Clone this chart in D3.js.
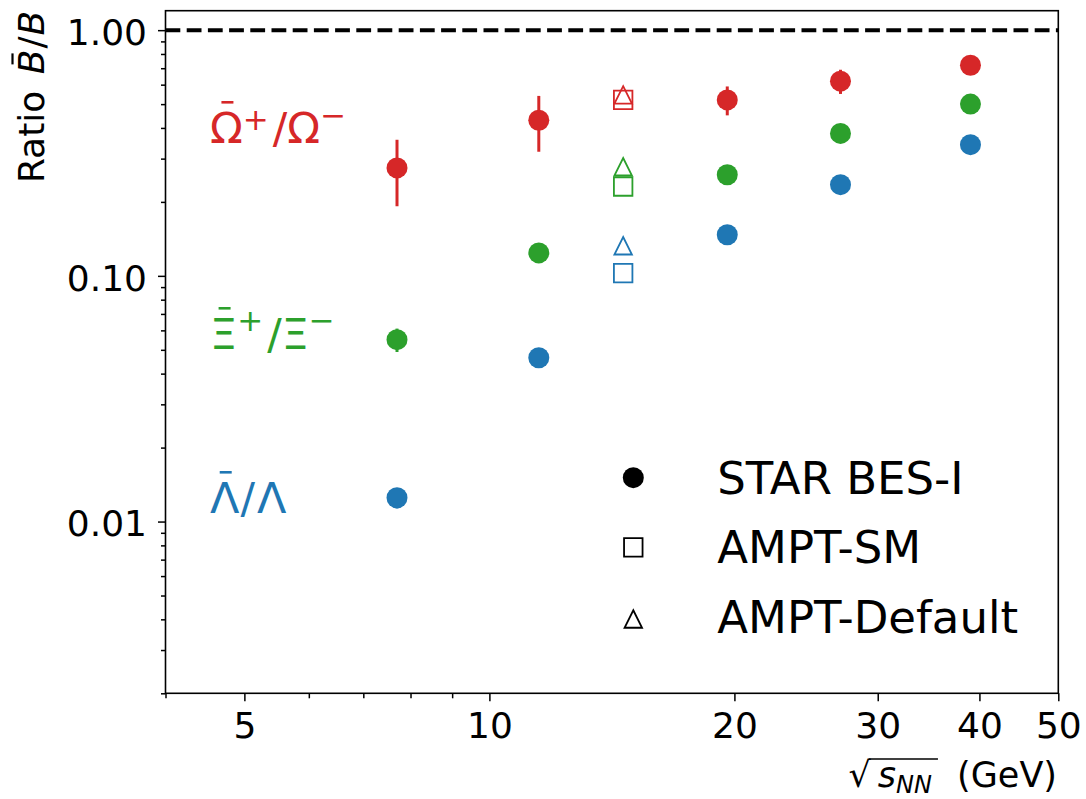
<!DOCTYPE html>
<html>
<head>
<meta charset="utf-8">
<script src="https://cdn.jsdelivr.net/npm/d3@7"></script>
<style>
  body { margin: 0; background: #fff; }
  text { font-family: "DejaVu Sans", sans-serif; }
</style>
</head>
<body>
<svg id="chart" width="1086" height="799"></svg>
<script>
// ---- data: antibaryon/baryon ratios vs collision energy ----
const energies = [7.7, 11.5, 19.6, 27, 39];

const omegaRatio  = [0.275, 0.43, 0.52, 0.62, 0.72];
const omegaErr    = [0.083, 0.11, 0.07, 0.07, 0.0];
const xiRatio     = [0.055, 0.124, 0.258, 0.38, 0.50];
const xiErr       = [0.006, 0.0, 0.0, 0.0, 0.0];
const lambdaRatio = [0.0125, 0.0464, 0.147, 0.235, 0.342];
const lambdaErr   = [0.0012, 0.0, 0.0, 0.0, 0.0];

// AMPT model points (omega, xi, lambda) at one energy
const amptEnergy  = 14.6;
const amptSM      = [0.52, 0.231, 0.1026];
const amptDefault = [0.545, 0.278, 0.1326];

const xTickValues = [5, 10, 20, 30, 40, 50];
const xMinorTicks = [4, 6, 7, 8, 9];
const yTickValues = [0.01, 0.1, 1];
const yTickLabels = ["0.01", "0.10", "1.00"];
const legendLabels = ["STAR BES-I", "AMPT-SM", "AMPT-Default"];

const colors = { omega: "#d62728", xi: "#2ca02c", lambda: "#1f77b4" };

// ---- frame ----
const L = 165.5, R = 1058.3, T = 10.7, B = 693.3;
const svg = d3.select("#chart");

const x = d3.scaleLog().domain([4, 50]).range([L, R]);
const y = d3.scaleLog().domain([0.002, 1.2]).range([B, T]);

const yMinor = [];
[0.001, 0.01, 0.1].forEach(d => {
  for (let k = 2; k <= 9; k++) {
    const v = +(k * d).toPrecision(3);
    if (v >= 0.002 && v <= 1.2) yMinor.push(v);
  }
});

// axes
const xAxis = svg.append("g").attr("transform", `translate(0,${B})`)
  .call(d3.axisBottom(x).tickValues(xTickValues).tickFormat(d3.format("d"))
        .tickSize(8).tickPadding(12));
const xAxisMinor = svg.append("g").attr("transform", `translate(0,${B})`)
  .call(d3.axisBottom(x).tickValues(xMinorTicks).tickFormat("").tickSize(5));
const yAxis = svg.append("g").attr("transform", `translate(${L},0)`)
  .call(d3.axisLeft(y).tickValues(yTickValues)
        .tickFormat((d, i) => yTickLabels[i]).tickSize(7.5).tickPadding(11));
const yAxisMinor = svg.append("g").attr("transform", `translate(${L},0)`)
  .call(d3.axisLeft(y).tickValues(yMinor).tickFormat("").tickSize(4.5));

[xAxis, xAxisMinor, yAxis, yAxisMinor].forEach(g => {
  g.select(".domain").remove();
  g.selectAll(".tick line").attr("stroke", "#000").attr("stroke-width", 1.5);
  g.selectAll(".tick text").attr("fill", "#000").attr("font-size", 36)
    .attr("font-family", "DejaVu Sans");
});
yAxis.selectAll(".tick text").attr("dy", "0.4em");
xAxis.selectAll(".tick text").attr("dy", "0.69em");

// reference line at ratio = 1
svg.append("line")
  .attr("x1", L).attr("x2", R).attr("y1", y(1)).attr("y2", y(1))
  .attr("stroke", "#000").attr("stroke-width", 4)
  .attr("stroke-dasharray", "14.8,6.4");

// ---- STAR data with error bars ----
const series = [
  { key: "omega",  vals: omegaRatio,  errs: omegaErr },
  { key: "xi",     vals: xiRatio,     errs: xiErr },
  { key: "lambda", vals: lambdaRatio, errs: lambdaErr }
];
const dataLayer = svg.append("g");
series.forEach(s => {
  const pts = energies.map((e, i) => ({ e, v: s.vals[i], err: s.errs[i] }));
  dataLayer.append("g").selectAll("line").data(pts.filter(p => p.err > 0)).join("line")
    .attr("x1", p => x(p.e)).attr("x2", p => x(p.e))
    .attr("y1", p => y(p.v - p.err)).attr("y2", p => y(p.v + p.err))
    .attr("stroke", colors[s.key]).attr("stroke-width", 3);
  dataLayer.append("g").selectAll("circle").data(pts).join("circle")
    .attr("cx", p => x(p.e)).attr("cy", p => y(p.v)).attr("r", 10.5)
    .attr("fill", colors[s.key]);
});

// ---- AMPT open markers ----
const sq = 18.5, tri = 17.5;
const squarePath = `M${-sq/2},${-sq/2}h${sq}v${sq}h${-sq}Z`;
const trianglePath = `M0,${-tri/2}L${tri/2},${tri/2}L${-tri/2},${tri/2}Z`;
const keys = ["omega", "xi", "lambda"];
const amptLayer = svg.append("g");
keys.forEach((k, i) => {
  amptLayer.append("path").attr("d", squarePath)
    .attr("transform", `translate(${x(amptEnergy)},${y(amptSM[i])})`)
    .attr("fill", "none").attr("stroke", colors[k]).attr("stroke-width", 1.8);
  amptLayer.append("path").attr("d", trianglePath)
    .attr("transform", `translate(${x(amptEnergy)},${y(amptDefault[i])})`)
    .attr("fill", "none").attr("stroke", colors[k]).attr("stroke-width", 1.8);
});

// ---- species labels ----
function speciesLabel(base, sup1, sup2, color, baseline, sup1Shift, sup2Shift) {
  const t = svg.append("text").attr("x", 210).attr("y", baseline)
    .attr("font-size", 43).attr("fill", color);
  t.append("tspan").text(base);
  if (sup1) t.append("tspan").attr("font-size", 31).attr("dy", -sup1Shift).text(sup1);
  t.append("tspan").attr("dy", sup1 ? sup1Shift : 0).attr("dx", sup1 ? 4 : 1).text("/");
  t.append("tspan").attr("dx", sup1 ? 0 : 2).text(base);
  if (sup2) t.append("tspan").attr("font-size", 31).attr("dy", -sup2Shift).text(sup2);
  // accent bar over the first symbol
  const ext = t.node().getExtentOfChar(0);
  const cx = ext.x + ext.width / 2 + 1;
  svg.append("line").attr("x1", cx - 6).attr("x2", cx + 6)
    .attr("y1", baseline - 41).attr("y2", baseline - 41)
    .attr("stroke", color).attr("stroke-width", 2.6);
}
speciesLabel("\u03A9", "+", "\u2212", colors.omega, 143.3, 13.5, 17);
speciesLabel("\u039E", "+", "\u2212", colors.xi, 349.3, 18, 18);
speciesLabel("\u039B", null, null, colors.lambda, 513.3, 0, 0);

// ---- legend ----
const legendX = 633.3, legendTextX = 717.3;
const legendRows = [477.7, 547.3, 619];
const legend = svg.append("g");
legend.append("circle").attr("cx", legendX).attr("cy", legendRows[0]).attr("r", 10.5).attr("fill", "#000");
legend.append("path").attr("d", squarePath).attr("transform", `translate(${legendX},${legendRows[1]})`)
  .attr("fill", "none").attr("stroke", "#000").attr("stroke-width", 1.8);
legend.append("path").attr("d", trianglePath).attr("transform", `translate(${legendX},${legendRows[2]})`)
  .attr("fill", "none").attr("stroke", "#000").attr("stroke-width", 1.8);
legend.selectAll("text").data(legendLabels).join("text")
  .attr("x", legendTextX).attr("y", (d, i) => [494, 563.3, 633.3][i])
  .attr("font-size", 45).attr("fill", "#000").text(d => d);

// ---- axis frame ----
svg.append("rect").attr("x", L).attr("y", T).attr("width", R - L).attr("height", B - T)
  .attr("fill", "none").attr("stroke", "#000").attr("stroke-width", 1.6);

// ---- axis titles ----
// y title: "Ratio B̄/B", rotated, aligned to top of the frame
const yTitleG = svg.append("g").attr("transform", `translate(43.5,${T}) rotate(-90)`);
const yTitle = yTitleG.append("text").attr("x", 0).attr("y", 0)
  .attr("text-anchor", "end").attr("font-size", 36).attr("fill", "#000");
yTitle.append("tspan").text("Ratio ");
yTitle.append("tspan").attr("font-style", "italic").attr("dx", 5).text("B");
yTitle.append("tspan").attr("dx", 1).text("/");
yTitle.append("tspan").attr("font-style", "italic").attr("dx", 1).text("B");
{
  const e = yTitle.node().getExtentOfChar(6);
  const cx = e.x + e.width / 2 + 3;
  yTitleG.append("line").attr("x1", cx - 5.5).attr("x2", cx + 5.5)
    .attr("y1", -31).attr("y2", -31).attr("stroke", "#000").attr("stroke-width", 2.2);
}

// x title: "√s_NN (GeV)", right aligned
const xTitle = svg.append("text").attr("x", 1057).attr("y", 787)
  .attr("text-anchor", "end").attr("font-size", 35).attr("fill", "#000");
xTitle.append("tspan").text("\u221A");
xTitle.append("tspan").attr("font-style", "italic").attr("dx", 7).text("s");
xTitle.append("tspan").attr("font-style", "italic").attr("font-size", 24).attr("dy", 6).text("NN");
xTitle.append("tspan").attr("dy", -6).attr("dx", 14).text(" (GeV)");
{
  const e0 = xTitle.node().getExtentOfChar(0);
  const e3 = xTitle.node().getExtentOfChar(3);
  svg.append("line").attr("x1", e0.x + e0.width - 2).attr("x2", e3.x + e3.width + 6)
    .attr("y1", 759).attr("y2", 759).attr("stroke", "#000").attr("stroke-width", 1.7);
}
</script>
</body>
</html>
